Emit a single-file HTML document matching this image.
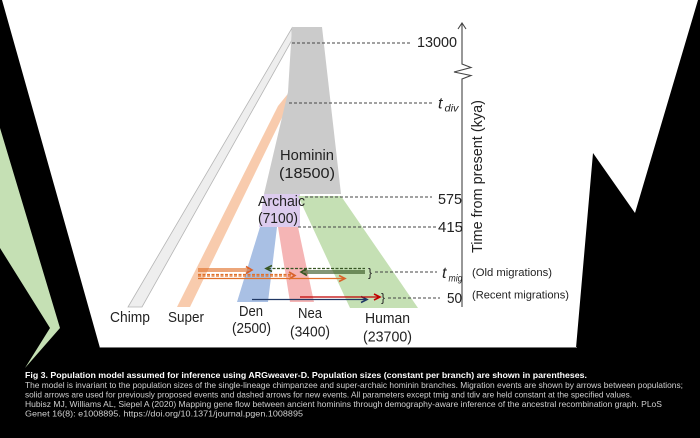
<!DOCTYPE html>
<html><head><meta charset="utf-8"><style>
html,body{margin:0;padding:0;background:#fff;}
svg{display:block;}
</style></head><body>
<svg width="700" height="438" viewBox="0 0 700 438" xmlns="http://www.w3.org/2000/svg">
<rect x="0" y="0" width="700" height="438" fill="#fff"/>
<!-- caption black area -->
<rect x="0" y="348" width="700" height="90" fill="#000"/>
<!-- left black -->
<polygon points="0,0 2,0 100,348 0,348" fill="#000"/>
<polygon points="0,128 60,328 25,368 50,328 0,248" fill="#c5e0b4"/>
<!-- right black -->
<polygon points="698,0 700,0 700,348 576,348 593,153 635,213" fill="#000"/>
<line x1="100" y1="347.5" x2="577" y2="347.5" stroke="#777" stroke-width="1"/>

<!-- chimp band -->
<polygon points="292,28 292,40 142,307 128,307" fill="#eeeeee" stroke="#b5b5b5" stroke-width="0.8"/>
<!-- super orange (drawn under grey) -->
<polygon points="291,90 293,95 190,307 177,307 278,106" fill="#f8cbad"/>
<!-- hominin grey -->
<polygon points="292,27 322,27 341,194 264,194 288,92" fill="#cbcbcb"/>
<!-- archaic purple -->
<polygon points="264,194 300,194 300,227 259,227" fill="#dccbee"/>
<!-- human green -->
<polygon points="298,196 341,196 418,308 350,308" fill="#c5e0b4"/>
<!-- den blue -->
<polygon points="260,227 277,227 268,302 237,302" fill="#a9c0e4"/>
<!-- nea red -->
<polygon points="278,227 298,227 314,302 290,302" fill="#f5b5b5"/>

<!-- dashed lines -->
<g stroke="#444" stroke-width="1" stroke-dasharray="3,2" fill="none">
<line x1="292" y1="43" x2="410" y2="43"/>
<line x1="289" y1="103" x2="432" y2="103"/>
<line x1="305" y1="197" x2="432" y2="197"/>
<line x1="298" y1="227" x2="436" y2="227"/>
<line x1="375" y1="272" x2="437" y2="272"/>
<line x1="388" y1="298" x2="440" y2="298"/>
</g>

<!-- axis -->
<g stroke="#444" stroke-width="1.1" fill="none">
<polyline points="462,23 462,64 471,67.5 454,72 471,75.5 462,79 462,307"/>
<polyline points="458,29 462,23 466,29"/>
</g>

<!-- arrows -->
<g fill="none" stroke-width="1.2">
<!-- orange -->
<line x1="198" y1="269" x2="251" y2="269" stroke="#e0702a"/>
<line x1="198" y1="271" x2="251" y2="271" stroke="#e0702a"/>
<polyline points="246,266.5 252,270 246,273.5" stroke="#d9622b" stroke-width="1.6"/>
<line x1="198" y1="274.5" x2="294" y2="274.5" stroke="#e0702a" stroke-dasharray="3,1.5"/>
<line x1="198" y1="276" x2="294" y2="276" stroke="#e0702a" stroke-dasharray="3,1.5"/>
<polyline points="289,272 295,275.5 289,279" stroke="#d9622b" stroke-width="1.6"/>
<line x1="198" y1="278.5" x2="344" y2="278.5" stroke="#e0702a"/>
<polyline points="339,275.5 345,278.5 339,281.5" stroke="#d9622b" stroke-width="1.6"/>
<!-- green -->
<line x1="268" y1="268.5" x2="365" y2="268.5" stroke="#375623" stroke-dasharray="3,1.5"/>
<polyline points="272,265.5 266,268.5 272,271.5" stroke="#375623" stroke-width="1.6"/>
<line x1="303" y1="271" x2="365" y2="271" stroke="#375623"/>
<line x1="303" y1="273" x2="365" y2="273" stroke="#375623"/>
<polyline points="307,268.5 301,272 307,275.5" stroke="#375623" stroke-width="1.6"/>
<!-- navy -->
<line x1="252" y1="299.5" x2="366" y2="299.5" stroke="#203864"/>
<polyline points="361,296.5 367,299.5 361,302.5" stroke="#203864" stroke-width="1.6"/>
<!-- red -->
<line x1="300" y1="297" x2="379" y2="297" stroke="#c00000"/>
<polyline points="374,294 380,297 374,300" stroke="#c00000" stroke-width="1.6"/>
</g>

<g font-family="Liberation Sans, Arial, sans-serif" fill="#222">
<text x="368" y="276.5" font-size="12">}</text>
<text x="381" y="301.5" font-size="12">}</text>

<text x="280" y="160" font-size="15" textLength="54" lengthAdjust="spacingAndGlyphs">Hominin</text>
<text x="279" y="178" font-size="15" textLength="56" lengthAdjust="spacingAndGlyphs">(18500)</text>
<text x="258" y="206" font-size="15" textLength="47" lengthAdjust="spacingAndGlyphs">Archaic</text>
<text x="258" y="223" font-size="15" textLength="40" lengthAdjust="spacingAndGlyphs">(7100)</text>
<text x="110" y="322" font-size="15" textLength="40" lengthAdjust="spacingAndGlyphs">Chimp</text>
<text x="168" y="322" font-size="15" textLength="36" lengthAdjust="spacingAndGlyphs">Super</text>
<text x="239" y="316" font-size="15" textLength="24" lengthAdjust="spacingAndGlyphs">Den</text>
<text x="232" y="333" font-size="15" textLength="39" lengthAdjust="spacingAndGlyphs">(2500)</text>
<text x="298" y="318" font-size="15" textLength="24" lengthAdjust="spacingAndGlyphs">Nea</text>
<text x="290" y="336.5" font-size="15" textLength="40" lengthAdjust="spacingAndGlyphs">(3400)</text>
<text x="365" y="323" font-size="15" textLength="45" lengthAdjust="spacingAndGlyphs">Human</text>
<text x="363" y="341.5" font-size="15" textLength="49" lengthAdjust="spacingAndGlyphs">(23700)</text>

<text x="417" y="47" font-size="15" textLength="40" lengthAdjust="spacingAndGlyphs">13000</text>
<text x="438" y="108.5" font-size="16" font-style="italic">t</text>
<text x="444.5" y="111.5" font-size="10" font-style="italic" textLength="14" lengthAdjust="spacingAndGlyphs">div</text>
<text x="438" y="204" font-size="15" textLength="24" lengthAdjust="spacingAndGlyphs">575</text>
<text x="438" y="232" font-size="15" textLength="25" lengthAdjust="spacingAndGlyphs">415</text>
<text x="442" y="278" font-size="16" font-style="italic">t</text>
<text x="448.5" y="281.5" font-size="10" font-style="italic" textLength="14" lengthAdjust="spacingAndGlyphs">mig</text>
<text x="447" y="303" font-size="15" textLength="15" lengthAdjust="spacingAndGlyphs">50</text>
<text x="472" y="276" font-size="11" textLength="80" lengthAdjust="spacingAndGlyphs">(Old migrations)</text>
<text x="472" y="298.5" font-size="11" textLength="97" lengthAdjust="spacingAndGlyphs">(Recent migrations)</text>
<text transform="translate(482,176.5) rotate(-90)" font-size="14.5" text-anchor="middle" textLength="153" lengthAdjust="spacingAndGlyphs">Time from present (kya)</text>
</g>

<g font-family="Liberation Sans, Arial, sans-serif" font-size="8.5">
<text x="25" y="378" fill="#fff" font-weight="bold" textLength="562" lengthAdjust="spacingAndGlyphs">Fig 3. Population model assumed for inference using ARGweaver-D.  Population sizes (constant per branch) are shown in parentheses.</text>
<text x="25" y="388" fill="#cfcfcf" textLength="658" lengthAdjust="spacingAndGlyphs">The model is invariant to the population sizes of the single-lineage chimpanzee and super-archaic hominin branches. Migration events are shown by arrows between populations;</text>
<text x="25" y="397.5" fill="#cfcfcf" textLength="607" lengthAdjust="spacingAndGlyphs">solid arrows are used for previously proposed events and dashed arrows for new events. All parameters except tmig and tdiv are held constant at the specified values.</text>
<text x="25" y="407" fill="#cfcfcf" textLength="637" lengthAdjust="spacingAndGlyphs">Hubisz MJ, Williams AL, Siepel A (2020) Mapping gene flow between ancient hominins through demography-aware inference of the ancestral recombination graph. PLoS</text>
<text x="25" y="416.5" fill="#cfcfcf" textLength="278" lengthAdjust="spacingAndGlyphs">Genet 16(8): e1008895. https://doi.org/10.1371/journal.pgen.1008895</text>
</g>
</svg>
</body></html>
